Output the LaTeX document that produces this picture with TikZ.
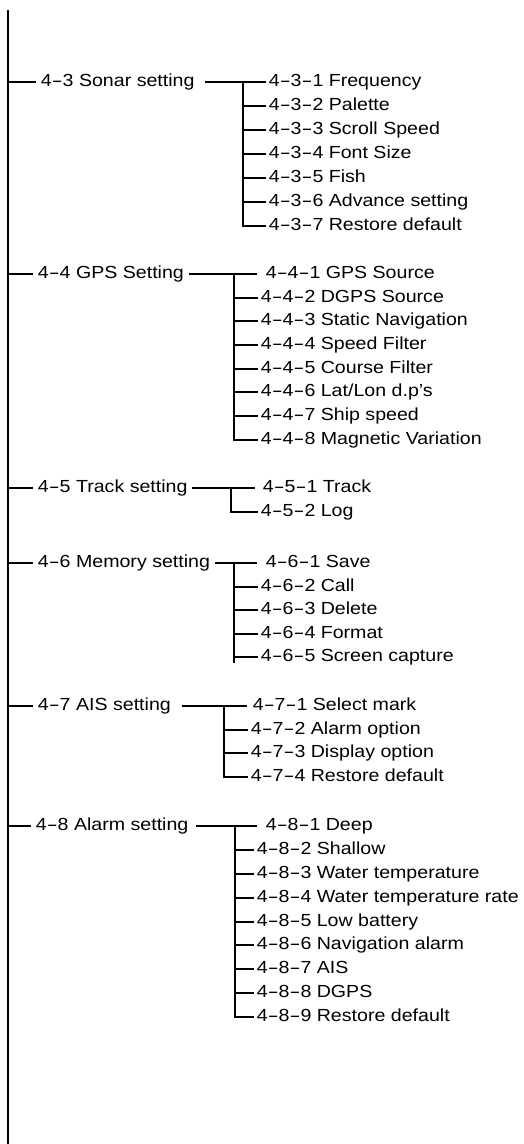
\documentclass[tikz,border=0pt]{standalone}
\usepackage{fontspec}
\usepackage{graphicx}
\setmainfont[FakeStretch=1.12]{Liberation Sans}
\newcommand\hy{\scalebox{1.67}[1]{-}}
\newcommand\fs{\fontsize{17.5}{20}\selectfont}
\begin{document}
\begin{tikzpicture}[x=1pt,y=-1pt,line width=1.8pt,
  lbl/.style={anchor=west,inner ysep=0pt,inner xsep=4pt,text height=12.5pt,text depth=4pt,font=\fs},
  sub/.style={lbl,inner xsep=2.5pt}]
\useasboundingbox (0,0) rectangle (524,1144);
\coordinate (top) at (8,10);
\coordinate (bot) at (8,1144);
\draw[line width=2pt] (top) -- (bot);

% ---- 4-3
\node[lbl] (p3) at (36,82) {4\hy3 Sonar setting};
\foreach \t/\y [count=\i] in {Frequency/82,Palette/106,Scroll Speed/130,Font Size/154,Fish/178,Advance setting/202,Restore default/226}
  \node[sub] (c3-\i) at (265.5,\y) {4\hy3\hy\i\ \t};
\coordinate (v3) at (243,82);
\draw (top |- p3.west) -- (p3.west);
\draw[shorten <=6pt] (p3.east) -- (c3-1.west);
\draw (v3) |- (c3-7.west);
\foreach \i in {2,...,6} \draw (v3 |- c3-\i.west) -- (c3-\i.west);

% ---- 4-4
\node[lbl] (p4) at (33,274) {4\hy4 GPS Setting};
\node[sub,inner xsep=8pt] (c4-1) at (257,274) {4\hy4\hy1 GPS Source};
\foreach \t/\y [count=\i from 2] in {DGPS Source/298,Static Navigation/321,Speed Filter/345,Course Filter/369,{Lat/Lon d.p's}/392,Ship speed/416,Magnetic Variation/440}
  \node[sub] (c4-\i) at (257.5,\y) {4\hy4\hy\i\ \t};
\coordinate (v4) at (234,274);
\draw (top |- p4.west) -- (p4.west);
\draw (p4.east) -- (c4-1.west);
\draw (v4) |- (c4-8.west);
\foreach \i in {2,...,7} \draw (v4 |- c4-\i.west) -- (c4-\i.west);

% ---- 4-5
\node[lbl] (p5) at (33,488) {4\hy5 Track setting};
\node[sub,inner xsep=7pt] (c5-1) at (255,488) {4\hy5\hy1 Track};
\node[sub] (c5-2) at (257.5,512) {4\hy5\hy2 Log};
\coordinate (v5) at (231,488);
\draw (top |- p5.west) -- (p5.west);
\draw (p5.east) -- (c5-1.west);
\draw (v5) |- (c5-2.west);

% ---- 4-6
\node[lbl] (p6) at (33,563) {4\hy6 Memory setting};
\node[sub,inner xsep=8pt] (c6-1) at (257,563) {4\hy6\hy1 Save};
\foreach \t/\y [count=\i from 2] in {Call/587,Delete/610,Format/634,Screen capture/657}
  \node[sub] (c6-\i) at (257.5,\y) {4\hy6\hy\i\ \t};
\coordinate (v6) at (234,563);
\coordinate (v6e) at (234,663);
\draw (top |- p6.west) -- (p6.west);
\draw (p6.east) -- (c6-1.west);
\draw (v6) -- (v6e);
\foreach \i in {2,...,5} \draw (v6 |- c6-\i.west) -- (c6-\i.west);

% ---- 4-7
\node[lbl] (p7) at (33,706) {4\hy7 AIS setting};
\node[sub,inner xsep=5pt] (c7-1) at (247,706) {4\hy7\hy1 Select mark};
\foreach \t/\y [count=\i from 2] in {Alarm option/730,Display option/753,Restore default/777}
  \node[sub] (c7-\i) at (247.5,\y) {4\hy7\hy\i\ \t};
\coordinate (v7) at (224,706);
\draw (top |- p7.west) -- (p7.west);
\draw[shorten <=6pt] (p7.east) -- (c7-1.west);
\draw (v7) |- (c7-4.west);
\foreach \i in {2,3} \draw (v7 |- c7-\i.west) -- (c7-\i.west);

% ---- 4-8
\node[lbl] (p8) at (31,826) {4\hy8 Alarm setting};
\node[sub,inner xsep=8pt] (c8-1) at (257,826) {4\hy8\hy1 Deep};
\foreach \t/\y [count=\i from 2] in {Shallow/850,Water temperature/874,Water temperature rate/898,Low battery/922,Navigation alarm/945,AIS/969,DGPS/993,Restore default/1017}
  \node[sub] (c8-\i) at (253.5,\y) {4\hy8\hy\i\ \t};
\coordinate (v8) at (235,826);
\draw (top |- p8.west) -- (p8.west);
\draw[shorten <=3pt] (p8.east) -- (c8-1.west);
\draw (v8) |- (c8-9.west);
\foreach \i in {2,...,8} \draw (v8 |- c8-\i.west) -- (c8-\i.west);
\end{tikzpicture}
\end{document}
